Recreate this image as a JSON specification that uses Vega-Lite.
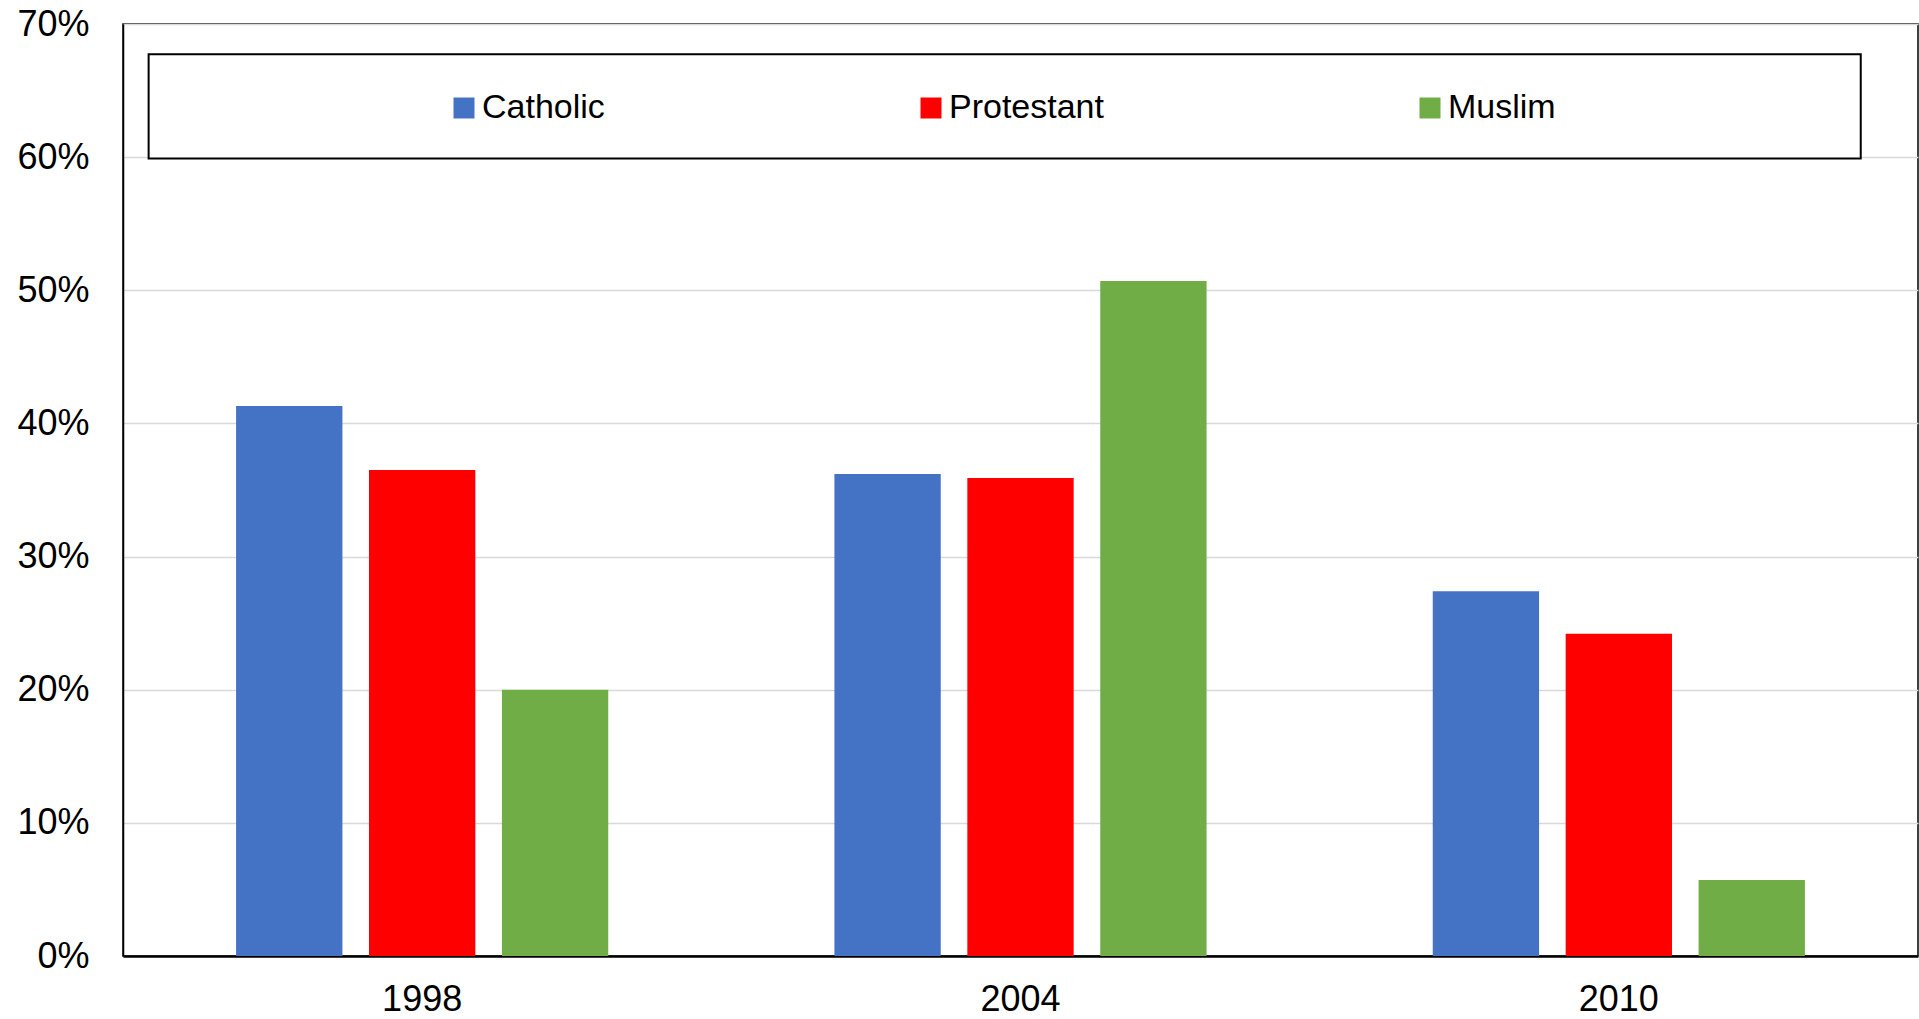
{
  "$schema": "https://vega.github.io/schema/vega-lite/v6.json",
  "autosize": "none",
  "width": 1795,
  "height": 932,
  "padding": {"left": 123, "top": 24, "right": 1, "bottom": 63},
  "background": "white",
  "config": {
    "view": {"stroke": "black", "strokeWidth": 1.5},
    "font": "Liberation Sans"
  },
  "data": {
    "values": [
      {"Year": "1998", "Religion": "Catholic", "Share": 0.413},
      {"Year": "1998", "Religion": "Protestant", "Share": 0.365},
      {"Year": "1998", "Religion": "Muslim", "Share": 0.200},
      {"Year": "2004", "Religion": "Catholic", "Share": 0.362},
      {"Year": "2004", "Religion": "Protestant", "Share": 0.359},
      {"Year": "2004", "Religion": "Muslim", "Share": 0.507},
      {"Year": "2010", "Religion": "Catholic", "Share": 0.274},
      {"Year": "2010", "Religion": "Protestant", "Share": 0.242},
      {"Year": "2010", "Religion": "Muslim", "Share": 0.057}
    ]
  },
  "layer": [
    {
      "mark": {"type": "bar"},
      "encoding": {
        "x": {
          "field": "Year",
          "type": "nominal",
          "scale": {"domain": ["1998", "2004", "2010"], "paddingInner": 0.378, "paddingOuter": 0.189},
          "axis": {
            "title": null,
            "labelAngle": 0,
            "labelFontSize": 36,
            "labelFont": "Liberation Sans",
            "labelColor": "black",
            "labelPadding": 26,
            "ticks": false,
            "tickSize": 0,
            "domainColor": "black",
            "domainWidth": 2.5,
            "grid": false
          }
        },
        "xOffset": {
          "field": "Religion",
          "type": "nominal",
          "scale": {"domain": ["Catholic", "Protestant", "Muslim"], "paddingInner": 0.2, "paddingOuter": 0}
        },
        "y": {
          "field": "Share",
          "type": "quantitative",
          "scale": {"domain": [0, 0.7], "nice": false},
          "axis": {
            "title": null,
            "values": [0, 0.1, 0.2, 0.3, 0.4, 0.5, 0.6, 0.7],
            "format": ".0%",
            "labelFontSize": 36,
            "labelFont": "Liberation Sans",
            "labelColor": "black",
            "labelPadding": 34,
            "ticks": false,
            "tickSize": 0,
            "domainColor": "black",
            "domainWidth": 1.5,
            "gridColor": "#d9d9d9",
            "gridWidth": 1.5,
            "labelOverlap": false
          }
        },
        "color": {
          "field": "Religion",
          "type": "nominal",
          "scale": {"domain": ["Catholic", "Protestant", "Muslim"], "range": ["#4472C4", "#FF0000", "#70AD47"]},
          "legend": {
            "title": null,
            "orient": "none",
            "legendX": 324,
            "legendY": 67,
            "direction": "horizontal",
            "columns": 3,
            "columnPadding": 309,
            "symbolType": "square",
            "symbolSize": 441,
            "symbolStrokeWidth": 0,
            "symbolOpacity": 1,
            "labelFontSize": 34,
            "labelFont": "Liberation Sans",
            "labelColor": "black",
            "labelOffset": 1,
            "labelLimit": 400,
            "zindex": 2
          }
        }
      }
    },
    {
      "data": {"values": [{}]},
      "mark": {"type": "rect", "fill": "white", "stroke": "black", "strokeWidth": 2},
      "encoding": {
        "x": {"datum": "1998", "bandPosition": -0.235},
        "x2": {"datum": "2010", "bandPosition": 1.15},
        "y": {"datum": 0.6773},
        "y2": {"datum": 0.5989}
      }
    }
  ]
}
